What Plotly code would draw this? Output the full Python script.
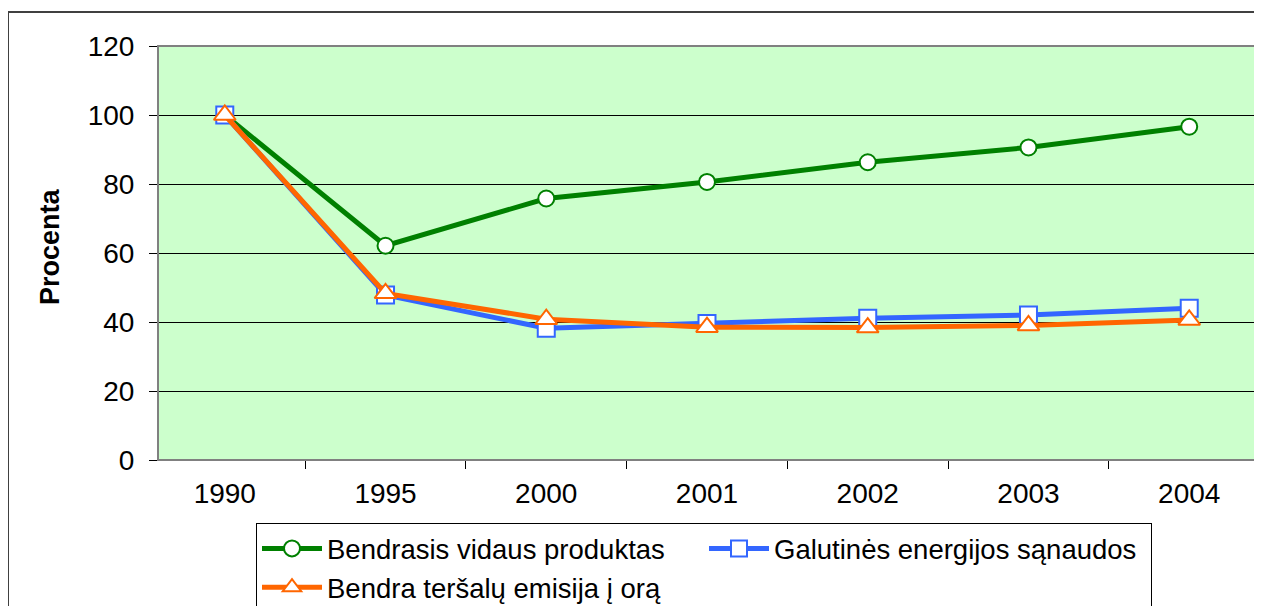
import plotly.graph_objects as go

years = ["1990", "1995", "2000", "2001", "2002", "2003", "2004"]
bvp = [100, 62.1, 75.8, 80.6, 86.3, 90.6, 96.6]
energija = [100, 47.8, 38.2, 39.6, 41.1, 42.0, 44.0]
emisija = [100, 48.3, 40.8, 38.5, 38.4, 39.0, 40.6]
names = ["Bendrasis vidaus produktas", "Galutinės energijos sąnaudos", "Bendra teršalų emisija į orą"]
y_title = "Procenta"

# page body margin offset (8px) compensation
OFF = 8
W, H = 1262 - OFF, 606 - OFF
L, T = 158 - OFF, 46 - OFF
pw, ph = 1098, 414
R, B = W - L - pw, H - T - ph

def px(x):
    return (x - OFF - L) / pw

def py(y):
    return (T + ph - (y - OFF)) / ph

fig = go.Figure()
fig.add_trace(go.Scatter(x=years, y=bvp, name=names[0], mode="lines+markers",
                         line=dict(color="#008000", width=5),
                         marker=dict(symbol="circle", size=16, color="white",
                                     line=dict(color="#008000", width=2))))
fig.add_trace(go.Scatter(x=years, y=energija, name=names[1], mode="lines+markers",
                         line=dict(color="#3366FF", width=5),
                         marker=dict(symbol="square", size=17, color="white",
                                     line=dict(color="#3366FF", width=2))))
fig.add_trace(go.Scatter(x=years, y=emisija, name=names[2], mode="lines+markers",
                         line=dict(color="#FF6600", width=5),
                         marker=dict(symbol="triangle-up", size=19, color="white",
                                     line=dict(color="#FF6600", width=2))))

font = "Liberation Sans, Arial, sans-serif"
fig.update_layout(
    width=W, height=H,
    margin=dict(l=L, r=R, t=T, b=B, autoexpand=False),
    paper_bgcolor="white",
    plot_bgcolor="#CCFFCC",
    font=dict(family=font, size=28, color="black"),
    showlegend=True,
    legend=dict(orientation="h", x=px(256), y=py(523), xanchor="left", yanchor="top",
                bgcolor="white", bordercolor="black", borderwidth=1,
                entrywidth=372, entrywidthmode="pixels", itemwidth=60,
                font=dict(family=font, size=27.5, color="black"),
                tracegroupgap=0),
    xaxis=dict(type="category", showgrid=False, showline=True, linecolor="black", linewidth=1,
               ticks="outside", ticklen=8, tickcolor="black", tickson="boundaries",
               tickfont=dict(size=28), ticklabelstandoff=8, zeroline=False),
    yaxis=dict(range=[0, 120], dtick=20, showgrid=True, gridcolor="black", gridwidth=1,
               showline=True, linecolor="black", linewidth=1, ticks="outside", ticklen=8,
               tickcolor="black", tickfont=dict(size=28), ticklabelstandoff=9, zeroline=False),
    shapes=[
        dict(type="rect", xref="paper", yref="paper", x0=0, x1=1, y0=0, y1=1,
             line=dict(color="#808080", width=2), layer="above"),
        dict(type="rect", xref="paper", yref="paper", x0=px(8), x1=px(1258),
             y0=py(612), y1=py(12), line=dict(color="#404040", width=2), layer="below"),
    ],
    annotations=[
        dict(text="<b>" + y_title + "</b>", xref="paper", yref="paper", x=px(50), y=py(247),
             xanchor="center", yanchor="middle", textangle=-90, showarrow=False,
             font=dict(family=font, size=27, color="black")),
    ],
)

fig.write_html("out.html")
